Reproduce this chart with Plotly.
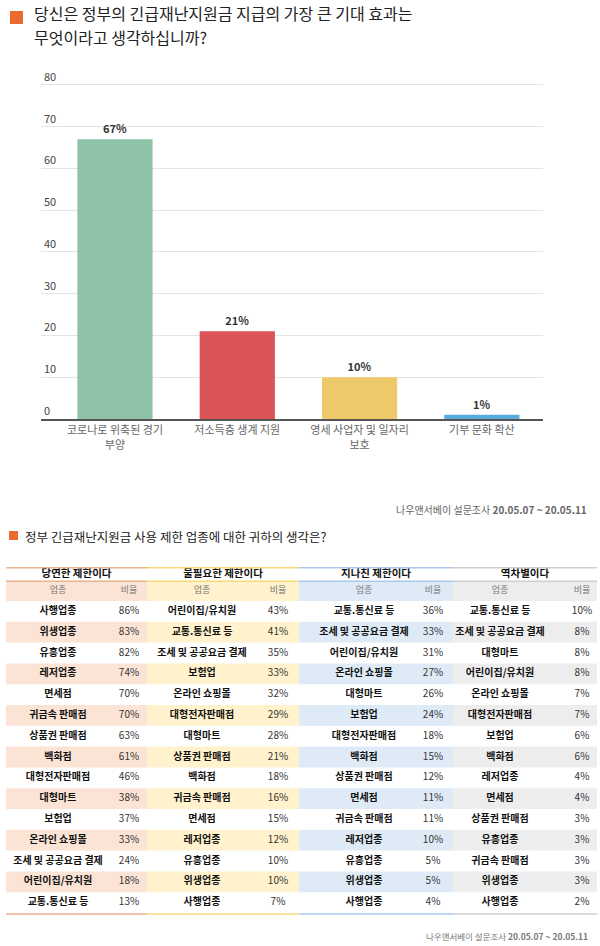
import plotly.graph_objects as go

# ---------------- data ----------------
effect_categories = ["코로나로 위축된 경기<br>부양", "저소득층 생계 지원", "영세 사업자 및 일자리<br>보호", "기부 문화 확산"]
effect_values = [67, 21, 10, 1]
effect_colors = ["#8ec3a7", "#da5356", "#eec96a", "#58abdf"]
y_tick_values = [0, 10, 20, 30, 40, 50, 60, 70, 80]

title1_lines = ["당신은 정부의 긴급재난지원금 지급의 가장 큰 기대 효과는", "무엇이라고 생각하십니까?"]
title2 = "정부 긴급재난지원금 사용 제한 업종에 대한 귀하의 생각은?"
source_text = "나우앤서베이 설문조사 <b>20.05.07 ~ 20.05.11</b>"

group_titles = ["당연한 제한이다", "불필요한 제한이다", "지나친 제한이다", "역차별이다"]
sub_headers = ["업종", "비율"]

g1_names = ["사행업종", "위생업종", "유흥업종", "레저업종", "면세점", "귀금속 판매점", "상품권 판매점", "백화점",
            "대형전자판매점", "대형마트", "보험업", "온라인 쇼핑몰", "조세 및 공공요금 결제", "어린이집/유치원", "교통.통신료 등"]
g1_values = [86, 83, 82, 74, 70, 70, 63, 61, 46, 38, 37, 33, 24, 18, 13]

g2_names = ["어린이집/유치원", "교통.통신료 등", "조세 및 공공요금 결제", "보험업", "온라인 쇼핑몰", "대형전자판매점", "대형마트",
            "상품권 판매점", "백화점", "귀금속 판매점", "면세점", "레저업종", "유흥업종", "위생업종", "사행업종"]
g2_values = [43, 41, 35, 33, 32, 29, 28, 21, 18, 16, 15, 12, 10, 10, 7]

g3_names = ["교통.통신료 등", "조세 및 공공요금 결제", "어린이집/유치원", "온라인 쇼핑몰", "대형마트", "보험업", "대형전자판매점",
            "백화점", "상품권 판매점", "면세점", "귀금속 판매점", "레저업종", "유흥업종", "위생업종", "사행업종"]
g3_values = [36, 33, 31, 27, 26, 24, 18, 15, 12, 11, 11, 10, 5, 5, 4]

g4_names = ["교통.통신료 등", "조세 및 공공요금 결제", "대형마트", "어린이집/유치원", "온라인 쇼핑몰", "대형전자판매점", "보험업",
            "백화점", "레저업종", "면세점", "상품권 판매점", "유흥업종", "귀금속 판매점", "위생업종", "사행업종"]
g4_values = [10, 8, 8, 8, 7, 7, 6, 6, 4, 4, 3, 3, 3, 3, 2]

groups_names = [g1_names, g2_names, g3_names, g4_names]
groups_values = [g1_values, g2_values, g3_values, g4_values]

# ---------------- layout constants ----------------
W, H = 600, 946
FONT = "Noto Sans CJK KR"
fill_colors = ["#fbe4d6", "#fff2cc", "#deebf7", "#ededed"]
line_colors = ["#eab28e", "#f7d877", "#a9c9e8", "#cfcfcf"]
group_edges = [6, 147, 299, 453, 597]          # x2 axis units (pixels)
name_centers = [58, 202, 364, 500]
ratio_centers = [129, 278, 433, 582]

def py(px):  # page pixel (from top) -> paper fraction
    return 1 - px / H

fig = go.Figure()

# ---------------- bar chart ----------------
fig.add_trace(go.Bar(
    x=list(range(len(effect_values))), y=effect_values,
    marker=dict(color=effect_colors, line=dict(width=0)),
    width=0.615,
    texttemplate="<b>%{y}%</b>", textposition="outside",
    textfont=dict(family=FONT, size=11, color="#333"),
    cliponaxis=False, hoverinfo="skip", showlegend=False,
    xaxis="x", yaxis="y",
))

# ---------------- table ----------------
n_rows = len(g1_names)
shaded_rows = [i for i in range(n_rows) if i % 2 == 1]
HDR2_C, HDR2_W = -0.975, 0.95
HDR1_Y, HDR2_Y = -1.78, -0.98
TOP_LINE, MID_LINE, BOT_LINE = -2.1, -1.45, 14.55

for g in range(4):
    left, right = group_edges[g], group_edges[g + 1]
    ys = [HDR2_C] + shaded_rows
    ws = [HDR2_W] + [1.0] * len(shaded_rows)
    fig.add_trace(go.Bar(
        orientation="h", y=ys, x=[right - left] * len(ys), base=[left] * len(ys),
        width=ws, marker=dict(color=fill_colors[g], line=dict(width=0)),
        hoverinfo="skip", showlegend=False, xaxis="x2", yaxis="y2",
    ))

for g in range(4):
    left, right = group_edges[g], group_edges[g + 1]
    fig.add_trace(go.Scatter(
        x=[(left + right) / 2], y=[HDR1_Y], mode="text", text=[f"<b>{group_titles[g]}</b>"],
        textfont=dict(family=FONT, size=10.5, color="#111"),
        hoverinfo="skip", showlegend=False, xaxis="x2", yaxis="y2", cliponaxis=False,
    ))
    fig.add_trace(go.Scatter(
        x=[name_centers[g], ratio_centers[g]], y=[HDR2_Y, HDR2_Y], mode="text", text=sub_headers,
        textfont=dict(family=FONT, size=9, color="#777"),
        hoverinfo="skip", showlegend=False, xaxis="x2", yaxis="y2", cliponaxis=False,
    ))
    fig.add_trace(go.Scatter(
        x=[name_centers[g]] * n_rows, y=list(range(n_rows)), mode="text",
        text=[f"<b>{n}</b>" for n in groups_names[g]],
        textfont=dict(family=FONT, size=10, color="#111"),
        hoverinfo="skip", showlegend=False, xaxis="x2", yaxis="y2", cliponaxis=False,
    ))
    fig.add_trace(go.Scatter(
        x=[ratio_centers[g]] * n_rows, y=list(range(n_rows)), mode="text",
        text=[f"{v}%" for v in groups_values[g]],
        textfont=dict(family=FONT, size=10, color="#333"),
        hoverinfo="skip", showlegend=False, xaxis="x2", yaxis="y2", cliponaxis=False,
    ))

shapes = []
for g in range(4):
    left, right = group_edges[g], group_edges[g + 1]
    for yv in (TOP_LINE, MID_LINE, BOT_LINE):
        shapes.append(dict(type="line", xref="x2", yref="y2", x0=left, x1=right, y0=yv, y1=yv,
                           line=dict(color=line_colors[g], width=1.5)))

# title squares
shapes.append(dict(type="rect", xref="paper", yref="paper", x0=10 / W, x1=23 / W, y0=py(24), y1=py(11),
                   fillcolor="#ea6a2f", line=dict(width=0)))
shapes.append(dict(type="rect", xref="paper", yref="paper", x0=9 / W, x1=18 / W, y0=py(540), y1=py(531),
                   fillcolor="#ea6a2f", line=dict(width=0)))

annotations = [
    dict(text=title1_lines[0], x=32 / W, y=py(13), xref="paper", yref="paper",
         xanchor="left", yanchor="middle",
         showarrow=False, font=dict(family=FONT, size=16, color="#222")),
    dict(text=title1_lines[1], x=32 / W, y=py(36.5), xref="paper", yref="paper",
         xanchor="left", yanchor="middle",
         showarrow=False, font=dict(family=FONT, size=16, color="#222")),
    dict(text=source_text, x=589 / W, y=py(509), xref="paper", yref="paper", xanchor="right", yanchor="middle",
         showarrow=False, font=dict(family=FONT, size=10, color="#666")),
    dict(text=title2, x=23 / W, y=py(536), xref="paper", yref="paper", xanchor="left", yanchor="middle",
         showarrow=False, font=dict(family=FONT, size=12.5, color="#222")),
    dict(text=source_text, x=590 / W, y=py(936), xref="paper", yref="paper", xanchor="right", yanchor="middle",
         showarrow=False, font=dict(family=FONT, size=8.5, color="#777")),
]

TBL_TOP, TBL_BOT = 555, 925
def v_of(px):
    return (px - 611.4) / 20.8

fig.update_layout(
    width=W, height=H, margin=dict(l=0, r=0, t=0, b=0),
    template="none", paper_bgcolor="white", plot_bgcolor="white",
    barmode="overlay", showlegend=False,
    font=dict(family=FONT),
    xaxis=dict(domain=[41 / W, 543 / W], range=[-0.605, 3.5], tickmode="array",
               tickvals=list(range(len(effect_categories))), ticktext=effect_categories,
               showgrid=False, zeroline=False, showline=True, linecolor="#555", linewidth=2,
               ticks="", tickfont=dict(family=FONT, size=11, color="#666"), automargin=False,
               fixedrange=True),
    yaxis=dict(domain=[py(419), py(80.8)], range=[0, 81], tickvals=y_tick_values,
               showgrid=True, gridcolor="#e4e4e4", gridwidth=1, zeroline=False, showline=False,
               ticks="", ticklabelposition="inside", ticklabelshift=-8, ticklabeloverflow="allow",
               tickfont=dict(family=FONT, size=11, color="#444"), automargin=False, fixedrange=True),
    xaxis2=dict(domain=[0, 1], range=[0, W], visible=False, anchor="y2", fixedrange=True),
    yaxis2=dict(domain=[py(TBL_BOT), py(TBL_TOP)], range=[v_of(TBL_BOT), v_of(TBL_TOP)],
                visible=False, anchor="x2", fixedrange=True),
    shapes=shapes, annotations=annotations,
)

fig.write_html("out.html")
